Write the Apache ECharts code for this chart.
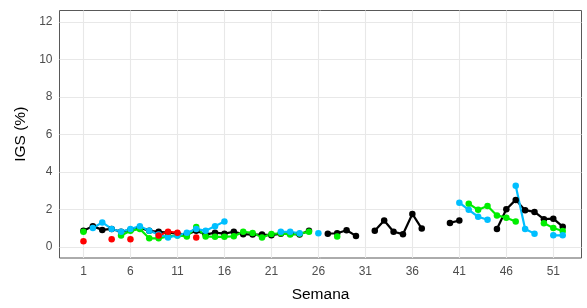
<!DOCTYPE html>
<html>
<head>
<meta charset="utf-8">
<script src="https://cdn.jsdelivr.net/npm/echarts@6/dist/echarts.min.js"></script>
<style>html,body{margin:0;padding:0;background:#fff}#c{width:587px;height:308px}</style>
</head>
<body>
<div id="c"></div>
<script>
const weeks = [1,2,3,4,5,6,7,8,9,10,11,12,13,14,15,16,17,18,19,20,21,22,23,24,25,26,27,28,29,30,31,32,33,34,35,36,37,38,39,40,41,42,43,44,45,46,47,48,49,50,51,52];
const blackVals = [0.85,1.1,0.9,0.95,0.8,0.9,1.0,0.85,0.8,0.75,0.7,0.65,0.85,0.65,0.75,0.7,0.8,0.67,0.65,0.65,0.62,0.7,0.7,0.65,0.85,null,0.7,0.72,0.88,0.58,null,0.85,1.4,0.8,0.67,1.75,0.97,null,null,1.27,1.4,null,null,null,0.95,2.0,2.5,1.95,1.86,1.47,1.5,1.07];
const greenVals = [0.8,null,null,null,0.6,0.85,0.95,0.45,0.45,0.55,0.6,0.55,1.05,0.55,0.53,0.53,0.56,0.8,0.74,0.5,0.68,0.72,0.65,0.7,0.8,null,null,0.55,null,null,null,null,null,null,null,null,null,null,null,null,null,2.3,1.97,2.17,1.67,1.55,1.35,null,null,1.26,1.0,0.84];
const blueVals = [null,1.0,1.3,0.95,0.8,0.95,1.1,0.85,0.65,0.5,0.6,0.75,0.95,0.85,1.1,1.35,null,null,null,null,null,0.8,0.8,0.72,null,0.72,null,null,null,null,null,null,null,null,null,null,null,null,null,null,2.35,1.97,1.6,1.44,null,null,3.25,0.95,0.7,null,0.61,0.61];
const redVals = [0.3,null,null,0.4,null,0.4,null,null,0.6,0.8,0.75,null,0.5,null,null,null,null,null,null,null,null,null,null,null,null,null,null,null,null,null,null,null,null,null,null,null,null,null,null,null,null,null,null,null,null,null,null,null,null,null,null,null];
const xTicks = [1,6,11,16,21,26,31,36,41,46,51];
const yTicks = [0,2,4,6,8,10,12];

const pair = vals => weeks.map((w, i) => [w, vals[i]]);
const mkSeries = (name, vals, color) => ({
  name, type: 'line', data: pair(vals), connectNulls: false,
  symbol: 'circle', symbolSize: 6.5, showSymbol: true,
  lineStyle: { color, width: 2.2 }, itemStyle: { color },
  z: 10, animation: false, emphasis: { disabled: true }
});

const chart = echarts.init(document.getElementById('c'), null, { renderer: 'canvas' });
chart.setOption({
  animation: false,
  textStyle: { fontFamily: 'Liberation Sans, Arial, sans-serif' },
  grid: { left: 59.5, right: 5.5, top: 10.5, bottom: 46.6, show: true, borderColor: '#595959', borderWidth: 1, backgroundColor: 'transparent' },
  xAxis: {
    type: 'value', min: -1.55, max: 54.0,
    name: 'Semana', nameLocation: 'middle', nameGap: 29,
    nameTextStyle: { color: '#000', fontSize: 15.5, fontFamily: 'Liberation Sans' },
    axisLine: { show: false }, axisTick: { show: false }, splitLine: { show: false },
    axisLabel: { customValues: xTicks, color: '#4d4d4d', fontSize: 12, margin: 8, fontFamily: 'Liberation Sans' }
  },
  yAxis: {
    type: 'value', min: -0.6, max: 12.6,
    name: 'IGS (%)', nameLocation: 'middle', nameGap: 26, nameRotate: 90,
    nameTextStyle: { color: '#000', fontSize: 15.5, fontFamily: 'Liberation Sans' },
    axisLine: { show: false }, axisTick: { show: false }, splitLine: { show: false },
    axisLabel: { customValues: yTicks, color: '#4d4d4d', fontSize: 12, margin: 7, fontFamily: 'Liberation Sans' }
  },
  series: [
    {
      type: 'line', data: [], z: 1, silent: true,
      markLine: {
        z: 1, silent: true, symbol: ['none', 'none'], label: { show: false }, animation: false,
        lineStyle: { color: '#e8e8e8', width: 1.1, type: 'solid' },
        emphasis: { disabled: true },
        data: xTicks.map(v => ({ xAxis: v })).concat(yTicks.map(v => ({ yAxis: v })))
      }
    },
    mkSeries('black', blackVals, '#000000'),
    mkSeries('green', greenVals, '#00ee00'),
    mkSeries('blue', blueVals, '#00bfff'),
    mkSeries('red', redVals, '#ff0000')
  ]
});
</script>
</body>
</html>
